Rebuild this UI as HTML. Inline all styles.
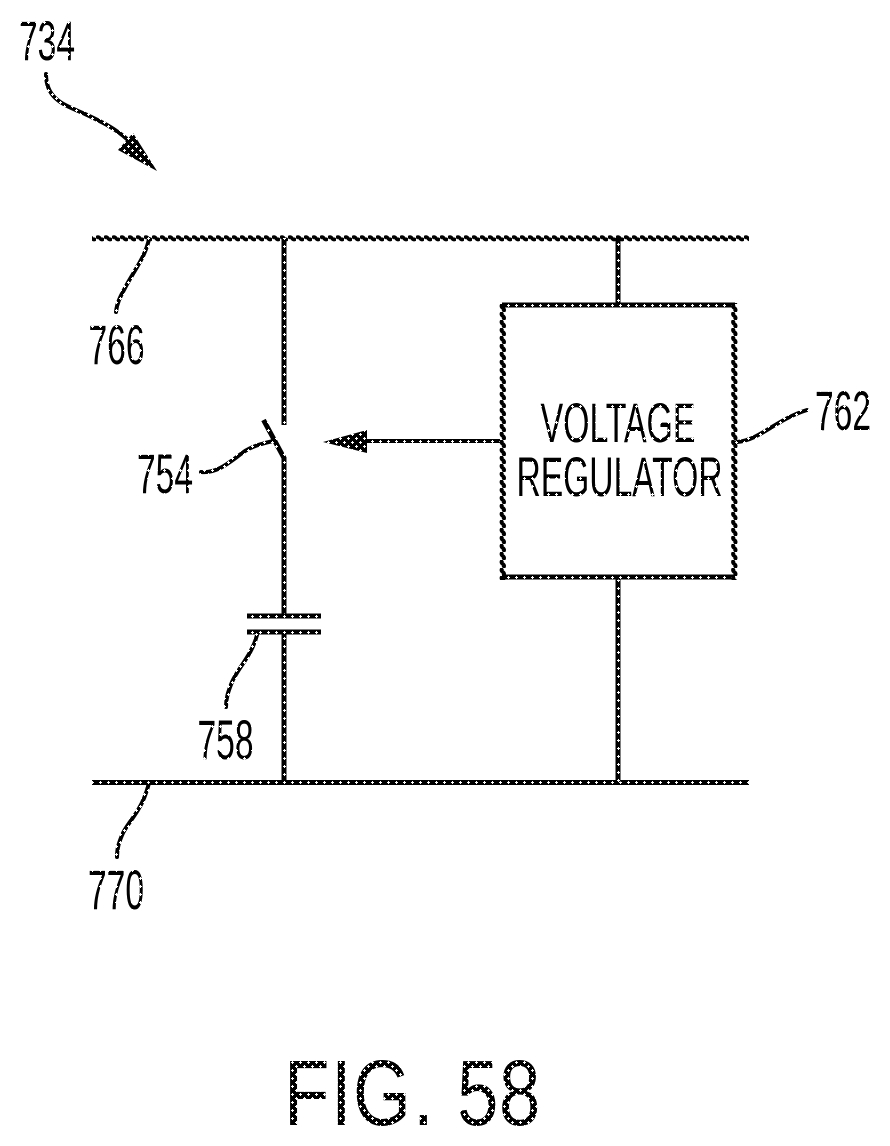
<!DOCTYPE html>
<html>
<head>
<meta charset="utf-8">
<style>
html,body{margin:0;padding:0;background:#fff;width:890px;height:1146px;overflow:hidden}
svg{display:block}
text{font-family:"Liberation Sans",sans-serif;fill:url(#h)}
.fig text{fill:url(#d)}
</style>
</head>
<body>
<svg width="890" height="1146" viewBox="0 0 890 1146" xmlns="http://www.w3.org/2000/svg">
<defs>
<pattern id="d" x="0" y="2" width="8" height="8" patternUnits="userSpaceOnUse">
<rect width="8" height="8" fill="#000"/>
<g fill="#fff" shape-rendering="crispEdges">
<rect x="3" y="4" width="3" height="1"/><rect x="4" y="3" width="1" height="3"/>
<rect x="7" y="0" width="1" height="1"/><rect x="0" y="0" width="2" height="1"/><rect x="0" y="7" width="1" height="1"/><rect x="0" y="1" width="1" height="1"/>
</g>
</pattern>
<pattern id="h" x="0" y="2" width="8" height="8" patternUnits="userSpaceOnUse">
<rect width="8" height="8" fill="#000"/>
<g fill="#fff" shape-rendering="crispEdges"><rect x="3" y="4" width="3" height="1"/><rect x="4" y="3" width="1" height="3"/></g>
</pattern>
<pattern id="v" x="-2" y="0" width="8" height="8" patternUnits="userSpaceOnUse">
<rect width="8" height="8" fill="#000"/>
<g fill="#fff" shape-rendering="crispEdges"><rect x="3" y="4" width="3" height="1"/><rect x="4" y="3" width="1" height="3"/></g>
</pattern>
<pattern id="b" x="0" y="-3" width="8" height="8" patternUnits="userSpaceOnUse">
<rect width="8" height="8" fill="#000"/>
<g fill="#fff" shape-rendering="crispEdges"><rect x="3" y="4" width="3" height="1"/><rect x="4" y="3" width="1" height="3"/></g>
</pattern>
<pattern id="c" x="0" y="-4" width="8" height="8" patternUnits="userSpaceOnUse">
<rect width="8" height="8" fill="#000"/>
<g fill="#fff" shape-rendering="crispEdges"><rect x="3" y="4" width="3" height="1"/><rect x="4" y="3" width="1" height="3"/></g>
</pattern>
<pattern id="w" x="0" y="234" width="8" height="8" patternUnits="userSpaceOnUse">
<path d="M0 4.3Q2 1.7 4 4.3T8 4.3" fill="none" stroke="#000" stroke-width="3.6"/>
</pattern>
<pattern id="wv" x="498.5" y="0" width="8" height="8" patternUnits="userSpaceOnUse">
<path d="M4.3 0Q1.7 2 4.3 4T4.3 8" fill="none" stroke="#000" stroke-width="3.8"/>
</pattern>
<pattern id="wr" x="730" y="0" width="8" height="8" patternUnits="userSpaceOnUse">
<path d="M4.3 0Q1.7 2 4.3 4T4.3 8" fill="none" stroke="#000" stroke-width="3.8"/>
</pattern>
</defs>
<rect x="92" y="234" width="657" height="8" fill="url(#w)"/>
<g fill="none" stroke-width="5">
<path d="M92 782.5H749" stroke="url(#h)"/>
<path d="M284 238V425" stroke="url(#h)"/>
<path d="M263.500 420L284 458V614" stroke="url(#h)"/>
<path d="M284 632V782" stroke="url(#h)"/>
<path d="M618 238V305" stroke="url(#v)"/>
<path d="M618 578V782" stroke="url(#v)"/>
<path d="M502 305H735M502 577H735" stroke="url(#b)"/>
<path d="M365 441H500" stroke="url(#b)" stroke-width="4"/>
</g>
<rect x="498.500" y="303" width="8" height="277" fill="url(#wv)"/>
<rect x="730" y="303" width="8" height="277" fill="url(#wr)"/>
<g fill="none" stroke="url(#c)" stroke-width="5">
<path d="M247 616H321"/>
<path d="M247 632H321"/>
</g>
<g fill="none" stroke="url(#d)" stroke-width="4" stroke-linecap="round">
<path d="M149 239C145 258 133 272 125 288C120 297 117 303 116 312"/>
<path d="M149 783C146 795 143 802 138 810C132 820 127 825 123 833C119 842 117 848 117 857"/>
<path d="M201 472C218 474 232 460 245 451C255 445 265 443 273 441"/>
<path d="M257 635C252 655 238 668 232 682C228 692 226 698 226 707"/>
<path d="M737 442C760 440 775 420 807 410"/>
<path d="M46 74C46 100 65 105 85 114C100 121 115 128 128 140"/>
</g>
<path d="M323 442L367 430V453Z" fill="url(#d)"/>
<path d="M157 171L118 150L133 133Z" fill="url(#d)"/>
<g font-size="56" text-anchor="middle">
<text x="47" y="60" textLength="56" lengthAdjust="spacingAndGlyphs">734</text>
<text x="116.500" y="364" textLength="56" lengthAdjust="spacingAndGlyphs">766</text>
<text x="165" y="493" textLength="56" lengthAdjust="spacingAndGlyphs">754</text>
<text x="225.500" y="759" textLength="56" lengthAdjust="spacingAndGlyphs">758</text>
<text x="116" y="909" textLength="56" lengthAdjust="spacingAndGlyphs">770</text>
<text x="843" y="430" textLength="56" lengthAdjust="spacingAndGlyphs">762</text>
<text x="618" y="442" textLength="155" lengthAdjust="spacingAndGlyphs">VOLTAGE</text>
<text x="619.500" y="496" textLength="206" lengthAdjust="spacingAndGlyphs">REGULATOR</text>
</g>
<g font-size="93" class="fig">
<text x="284" y="1125" textLength="45.400" lengthAdjust="spacingAndGlyphs">F</text>
<text x="331" y="1125" textLength="20.700" lengthAdjust="spacingAndGlyphs">I</text>
<text x="353" y="1125" textLength="57.900" lengthAdjust="spacingAndGlyphs">G</text>
<text x="413" y="1125" textLength="20.700" lengthAdjust="spacingAndGlyphs">.</text>
<text x="457" y="1125" textLength="41.400" lengthAdjust="spacingAndGlyphs">5</text>
<text x="499" y="1125" textLength="41.400" lengthAdjust="spacingAndGlyphs">8</text>
</g>
</svg>
</body>
</html>
